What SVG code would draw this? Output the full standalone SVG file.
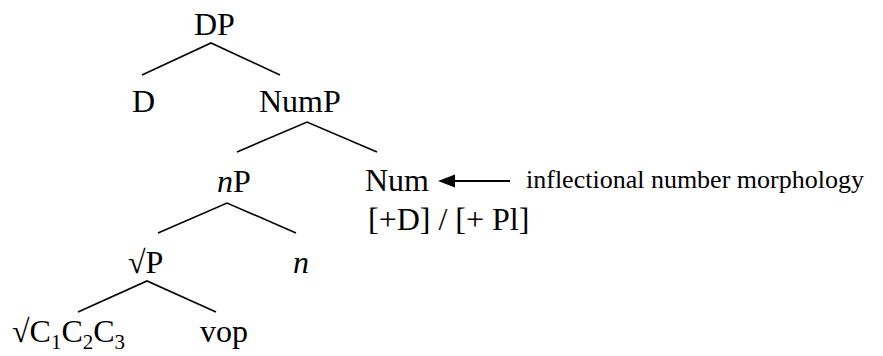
<svg xmlns="http://www.w3.org/2000/svg" width="883" height="356" viewBox="0 0 883 356">
<defs>
<style>
text{font-family:"Liberation Serif","Times New Roman",serif;fill:#000}
.t{font-size:32px}
.s{font-size:26px}
.sub{font-size:21px}
.it{font-style:italic}
.ln{stroke:#000;stroke-width:1.6;fill:none}
</style>
<marker id="ah" viewBox="0 0 10 10" refX="1" refY="5" markerWidth="8" markerHeight="6.5" markerUnits="userSpaceOnUse" orient="auto">
<path d="M0,5 L10,0 L10,10 Z" fill="#000"/>
</marker>
</defs>
<rect width="883" height="356" fill="#fff"/>
<g id="connectors">
<polyline class="ln" points="142,75 211,43 280,75"/>
<polyline class="ln" points="237,152 307,122 377,152"/>
<polyline class="ln" points="158,233 227,203 296,233"/>
<polyline class="ln" points="78,312 147,281 216,312"/>
<line x1="510" y1="181" x2="452" y2="181" stroke="#000" stroke-width="2.2"/>
<path d="M438,181 L455,174.5 L455,187.5 Z" fill="#000"/>
</g>
<g id="DP"><text class="t" x="194" y="35">DP</text></g>
<g id="D"><text class="t" x="132" y="112">D</text></g>
<g id="NumP"><text class="t" x="259" y="112">NumP</text></g>
<g id="nP"><text class="t" x="217" y="192"><tspan class="it">n</tspan>P</text></g>
<g id="Num"><text class="t" x="365" y="191">Num</text><text class="t" x="368" y="230">[+D] / [+ Pl]</text></g>
<g id="rootP"><text class="t" x="128" y="273">√P</text></g>
<g id="n"><text class="t it" x="293" y="273">n</text></g>
<g id="root"><text class="t" x="12" y="342">√C<tspan class="sub" dy="7">1</tspan><tspan dy="-7">C</tspan><tspan class="sub" dy="7">2</tspan><tspan dy="-7">C</tspan><tspan class="sub" dy="7">3</tspan></text></g>
<g id="vop"><text class="t" x="200" y="342">vop</text></g>
<g id="label"><text class="s" x="526" y="188">inflectional number morphology</text></g>
</svg>
